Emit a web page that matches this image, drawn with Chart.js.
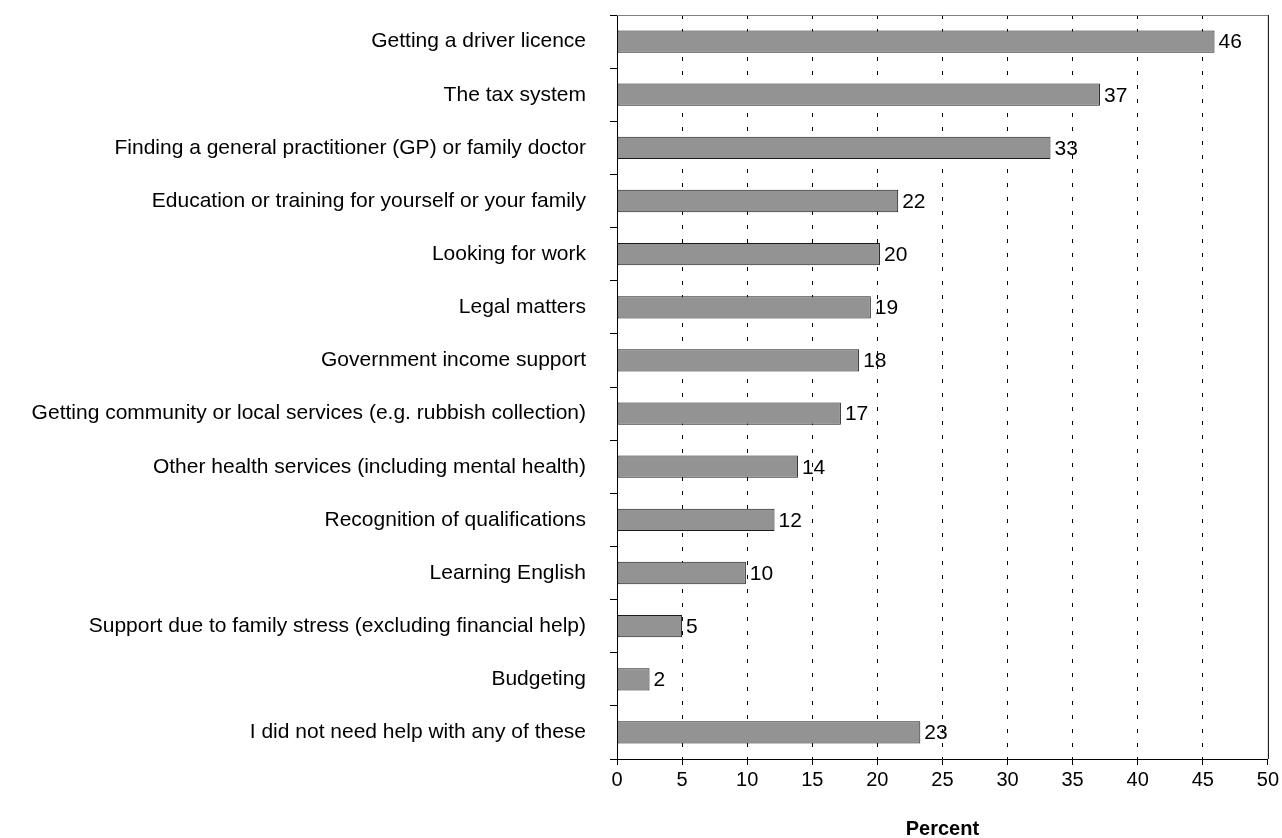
<!DOCTYPE html>
<html lang="en">
  <head>
    <meta charset="utf-8" />
    <title>Help needed</title>
    <style>
      * {
        margin: 0;
        padding: 0;
      }
      body {
        background: #ffffff;
      }
      .chartBox {
        width: 1282px;
        height: 838px;
      }
    </style>
  </head>
  <body>
    <div class="chartBox">
      <canvas id="myChart"></canvas>
    </div>
    <script src="https://cdn.jsdelivr.net/npm/chart.js/dist/chart.umd.min.js"></script>
    <script>
      // setup
      const categories = [
        "Getting a driver licence",
        "The tax system",
        "Finding a general practitioner (GP) or family doctor",
        "Education or training for yourself or your family",
        "Looking for work",
        "Legal matters",
        "Government income support",
        "Getting community or local services (e.g. rubbish collection)",
        "Other health services (including mental health)",
        "Recognition of qualifications",
        "Learning English",
        "Support due to family stress (excluding financial help)",
        "Budgeting",
        "I did not need help with any of these",
      ];
      const percentValues = [45.9, 37.1, 33.3, 21.6, 20.2, 19.5, 18.6, 17.2, 13.9, 12.1, 9.9, 5.0, 2.5, 23.3];
      const valueLabels = ["46", "37", "33", "22", "20", "19", "18", "17", "14", "12", "10", "5", "2", "23"];
      const xTicks = [0, 5, 10, 15, 20, 25, 30, 35, 40, 45, 50];

      const FONT = "'Liberation Sans', Arial, sans-serif";

      // value at the end of each bar, plus the top/right frame of the plot
      const barValues = {
        id: "barValues",
        afterDatasetsDraw(chart) {
          const { ctx, chartArea } = chart;
          const meta = chart.getDatasetMeta(0);
          ctx.save();
          ctx.font = "21px " + FONT;
          ctx.fillStyle = "#000";
          ctx.textAlign = "left";
          ctx.textBaseline = "middle";
          meta.data.forEach((bar, i) => {
            ctx.fillText(valueLabels[i], bar.x + 4, bar.y + 1);
          });
          ctx.lineWidth = 1;
          ctx.strokeStyle = "#808080";
          ctx.beginPath();
          ctx.moveTo(chartArea.left, chartArea.top + 0.5);
          ctx.lineTo(chartArea.right, chartArea.top + 0.5);
          ctx.stroke();
          ctx.strokeStyle = "#000";
          ctx.beginPath();
          ctx.moveTo(chartArea.right + 0.5, chartArea.top);
          ctx.lineTo(chartArea.right + 0.5, chartArea.bottom);
          ctx.stroke();
          ctx.restore();
        },
      };

      const data = {
        labels: categories,
        datasets: [
          {
            label: "Percent",
            data: percentValues,
            backgroundColor: "#939393",
            borderColor: "#1a1a1a",
            borderWidth: 1,
            borderSkipped: false,
            barPercentage: 0.42,
            categoryPercentage: 1,
          },
        ],
      };

      // config
      const config = {
        type: "bar",
        data,
        options: {
          indexAxis: "y",
          responsive: true,
          maintainAspectRatio: false,
          animation: false,
          layout: { padding: { top: 15, right: 13, left: 0, bottom: 0 } },
          plugins: {
            legend: { display: false },
            tooltip: { enabled: false },
          },
          scales: {
            x: {
              min: 0,
              max: 50,
              afterBuildTicks(scale) {
                scale.ticks = xTicks.map((v) => ({ value: v }));
              },
              afterFit(scale) {
                scale.height = 79;
              },
              grid: {
                color: (c) => (c.tick && (c.tick.value === 0 || c.tick.value === 50) ? "rgba(0,0,0,0)" : "#000"),
                tickColor: "#000",
                tickBorderDash: [],
                tickLength: 6,
              },
              border: { color: "#000", width: 1, dash: [4, 10] },
              ticks: {
                color: "#000",
                padding: 3,
                font: { family: FONT, size: 20 },
              },
              title: {
                display: true,
                text: "Percent",
                color: "#000",
                padding: { top: 0, bottom: -3 },
                font: { family: FONT, size: 20, weight: "bold" },
              },
            },
            y: {
              afterFit(scale) {
                scale.width = 617;
                scale.paddingTop = 0;
                scale.paddingBottom = 0;
              },
              grid: {
                drawOnChartArea: false,
                tickColor: "#000",
                tickLength: 7,
              },
              border: { color: "#000", width: 1 },
              ticks: {
                color: "#000",
                padding: 24,
                font: { family: FONT, size: 21 },
              },
            },
          },
        },
        plugins: [barValues],
      };

      // render init block
      const myChart = new Chart(document.getElementById("myChart"), config);
    </script>
  </body>
</html>
